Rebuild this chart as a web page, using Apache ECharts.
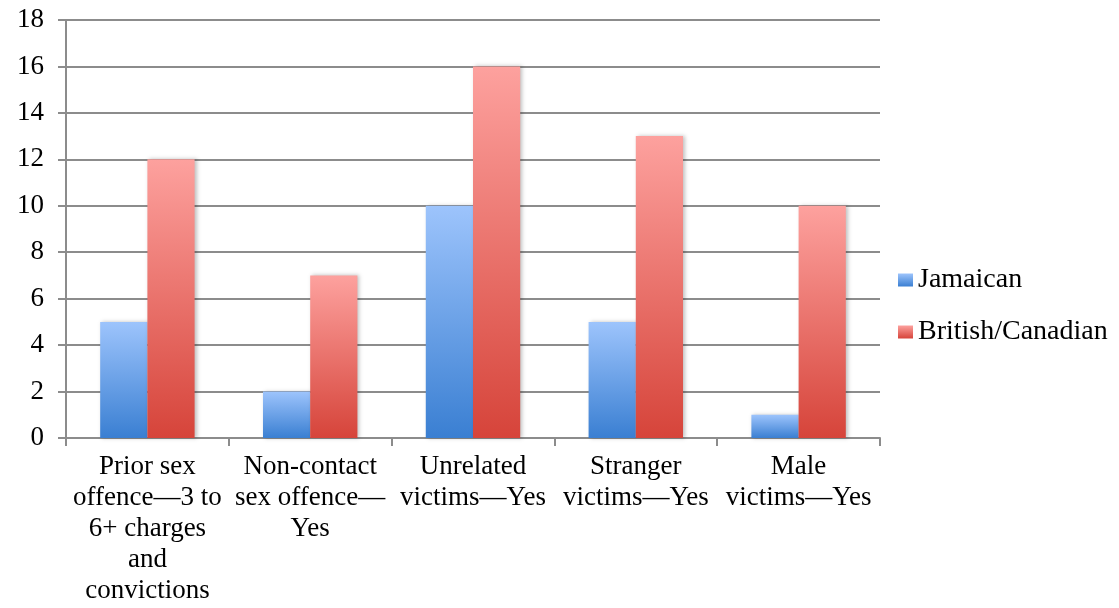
<!DOCTYPE html>
<html>
<head>
<meta charset="utf-8">
<script src="https://cdn.jsdelivr.net/npm/echarts@6/dist/echarts.min.js"></script>
<style>
  html, body { margin: 0; padding: 0; background: #fff; }
  #chart { width: 1119px; height: 608px; }
</style>
</head>
<body>
<div id="chart"></div>
<script>
  const categories = [
    'Prior sex\noffence\u20143 to\n6+ charges\nand\nconvictions',
    'Non-contact\nsex offence\u2014\nYes',
    'Unrelated\nvictims\u2014Yes',
    'Stranger\nvictims\u2014Yes',
    'Male\nvictims\u2014Yes'
  ]
  const jamaican = [5, 2, 10, 5, 1]
  const britishCanadian = [12, 7, 16, 13, 10]

  const fontFamily = '"Liberation Serif", "DejaVu Serif", serif'

  function grad(top, bottom) {
    return new echarts.graphic.LinearGradient(0, 0, 0, 1, [
      { offset: 0, color: top },
      { offset: 1, color: bottom }
    ])
  }

  const chart = echarts.init(document.getElementById('chart'))
  chart.setOption({
    animation: false,
    textStyle: { fontFamily: fontFamily },
    grid: { left: 66, right: 239, top: 20, bottom: 170 },
    legend: {
      orient: 'vertical',
      left: 893,
      top: 261,
      itemWidth: 15,
      itemHeight: 13,
      itemGap: 24,
      icon: 'rect',
      textStyle: { fontSize: 28, color: '#000', fontFamily: fontFamily },
      data: ['Jamaican', 'British/Canadian']
    },
    xAxis: {
      type: 'category',
      data: categories,
      axisLine: { lineStyle: { color: '#8c8c8c', width: 2 } },
      axisTick: { show: true, length: 8, lineStyle: { color: '#8c8c8c', width: 2 } },
      axisLabel: {
        interval: 0,
        margin: 13,
        fontSize: 27,
        lineHeight: 31,
        color: '#000',
        fontFamily: fontFamily
      }
    },
    yAxis: {
      type: 'value',
      min: 0,
      max: 18,
      interval: 2,
      axisLine: { show: true, lineStyle: { color: '#8c8c8c', width: 2 } },
      axisTick: { show: true, length: 8, lineStyle: { color: '#8c8c8c', width: 2 } },
      splitLine: { lineStyle: { color: '#8c8c8c', width: 2 } },
      axisLabel: { margin: 22, fontSize: 27, color: '#000', fontFamily: fontFamily }
    },
    series: [
      {
        name: 'Jamaican',
        type: 'bar',
        data: jamaican,
        barGap: '0%',
        barCategoryGap: '42%',
        itemStyle: {
          color: grad('#9dc4fc', '#3a7fd2'),
          shadowBlur: 4,
          shadowOffsetX: 2,
          shadowColor: 'rgba(0,0,0,0.25)'
        }
      },
      {
        name: 'British/Canadian',
        type: 'bar',
        data: britishCanadian,
        barGap: '0%',
        barCategoryGap: '42%',
        itemStyle: {
          color: grad('#fda19e', '#d6443a'),
          shadowBlur: 4,
          shadowOffsetX: 2,
          shadowColor: 'rgba(0,0,0,0.25)'
        }
      }
    ]
  })
</script>
</body>
</html>
